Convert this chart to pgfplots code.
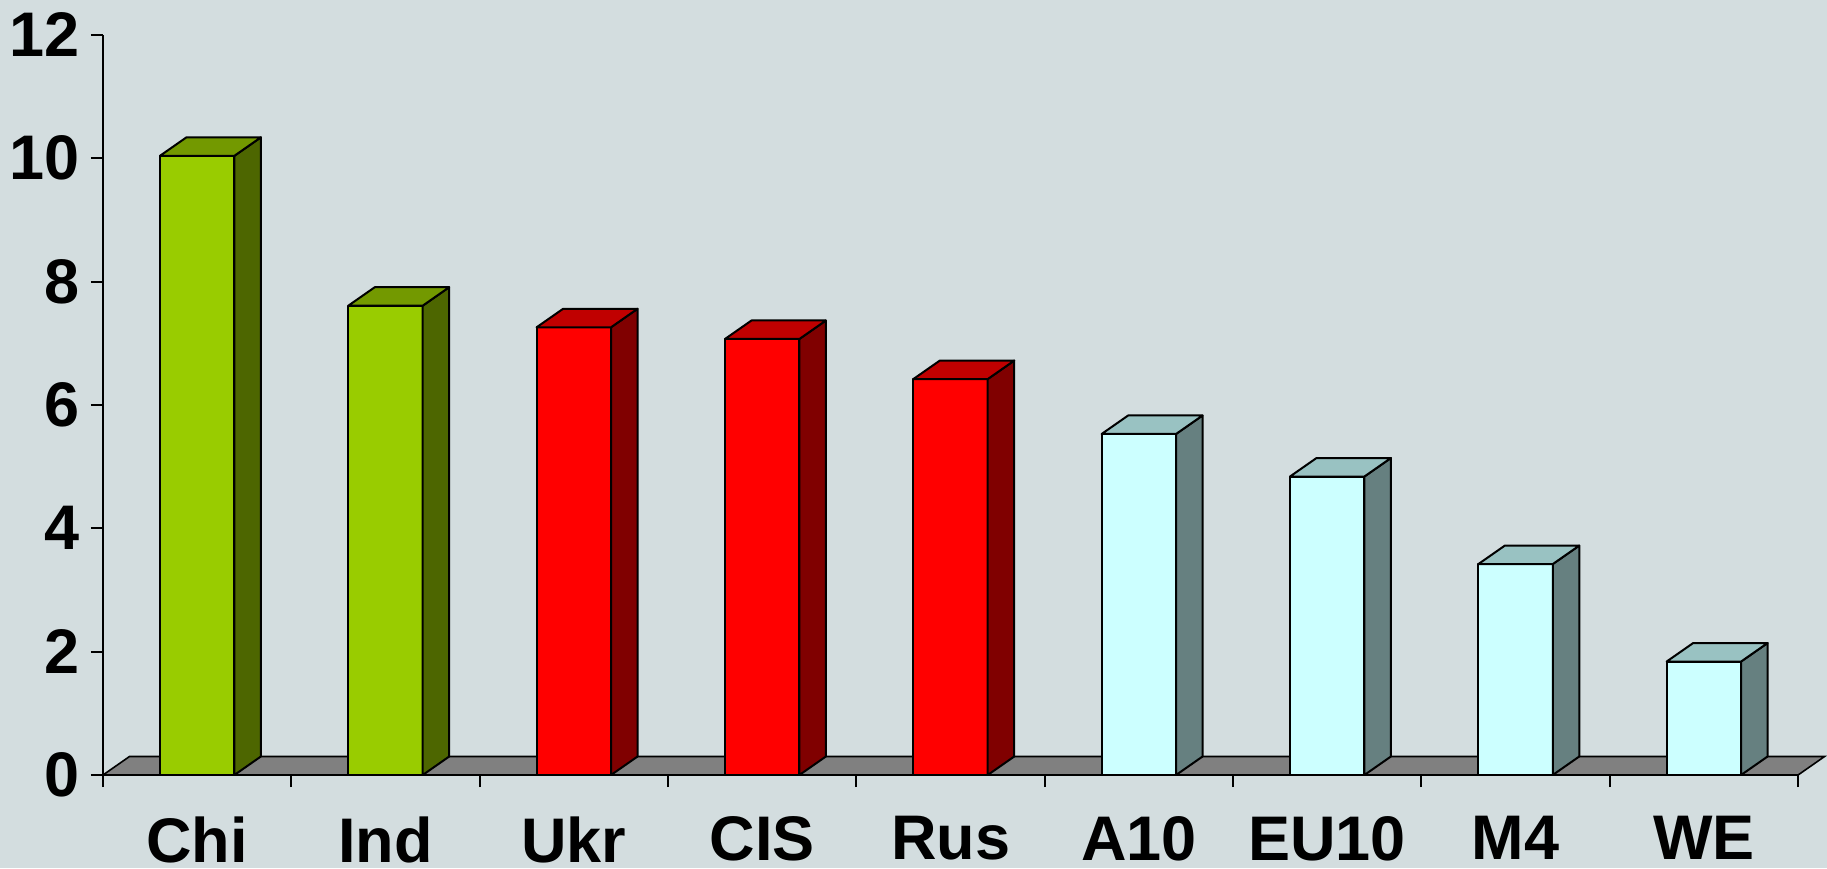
\documentclass[border=0pt]{standalone}
\usepackage{fontspec}
\setmainfont{Liberation Sans}
\usepackage{pgfplots}
\usepackage{pgfplotstable}
\pgfplotsset{compat=1.18}
\usetikzlibrary{backgrounds}

\definecolor{bgc}{HTML}{D3DDDF}
\definecolor{gfront}{HTML}{99CC00}
\definecolor{gside}{HTML}{4D6600}
\definecolor{gtop}{HTML}{739900}
\definecolor{rfront}{HTML}{FF0000}
\definecolor{rside}{HTML}{800000}
\definecolor{rtop}{HTML}{C00000}
\definecolor{cfront}{HTML}{CCFFFF}
\definecolor{cside}{HTML}{668080}
\definecolor{ctop}{HTML}{99C2C2}
\definecolor{floorc}{HTML}{808080}

% one bar: front face, side face, top face; origin at the data point (x, value)
\newcommand\barthreed[3]{%
  \pgfmathsetmacro\hh{\val*30.835}%
  \pgfsetlinewidth{1pt}\pgfsetstrokecolor{black}\pgfsetroundjoin
  \pgfsetfillcolor{#1}%
  \pgfpathrectanglecorners{\pgfpoint{-18.6pt}{-\hh pt}}{\pgfpoint{18.6pt}{0pt}}%
  \pgfusepath{fill,stroke}%
  \pgfsetfillcolor{#2}%
  \pgfpathmoveto{\pgfpoint{18.6pt}{-\hh pt}}%
  \pgfpathlineto{\pgfpoint{31.85pt}{-\hh pt+9.25pt}}%
  \pgfpathlineto{\pgfpoint{31.85pt}{9.25pt}}%
  \pgfpathlineto{\pgfpoint{18.6pt}{0pt}}%
  \pgfpathclose
  \pgfusepath{fill,stroke}%
  \pgfsetfillcolor{#3}%
  \pgfpathmoveto{\pgfpoint{-18.6pt}{0pt}}%
  \pgfpathlineto{\pgfpoint{-5.35pt}{9.25pt}}%
  \pgfpathlineto{\pgfpoint{31.85pt}{9.25pt}}%
  \pgfpathlineto{\pgfpoint{18.6pt}{0pt}}%
  \pgfpathclose
  \pgfusepath{fill,stroke}%
}
\pgfdeclareplotmark{barG}{\barthreed{gfront}{gside}{gtop}}
\pgfdeclareplotmark{barR}{\barthreed{rfront}{rside}{rtop}}
\pgfdeclareplotmark{barC}{\barthreed{cfront}{cside}{ctop}}

\pgfplotstableread{
x y
0.5 10.04
1.5 7.61
}\greentab
\pgfplotstableread{
x y
2.5 7.26
3.5 7.07
4.5 6.42
}\redtab
\pgfplotstableread{
x y
5.5 5.53
6.5 4.84
7.5 3.42
8.5 1.84
}\cyantab

\begin{document}
\begin{tikzpicture}
\begin{axis}[
  name=ax,
  at={(0,0)}, anchor=south west,
  x=94.17pt, y=30.835pt,
  xmin=0, xmax=9, ymin=0, ymax=12,
  axis lines=left,
  axis line style={-, line width=1pt, black},
  clip=false,
  tick align=outside,
  major tick length=6pt,
  tick style={line width=1pt, black},
  ytick={0,2,...,12},
  xtick={0,...,9},
  xticklabels={},
  extra x ticks={0.5,1.5,...,8.5},
  extra x tick labels={Chi,Ind,Ukr,CIS,Rus,A10,EU10,M4,WE},
  extra x tick style={major tick length=0pt,
    xticklabel style={anchor=north, inner sep=0pt, yshift=-20.5pt}},
  /pgf/number format/assume math mode=true,
  tick label style={font=\fontsize{31.5}{36}\selectfont\bfseries},
  yticklabel style={anchor=east, inner sep=0pt, xshift=-5.5pt},
]
\filldraw[fill=floorc, draw=black, line width=0.8pt]
  (axis cs:0,0) -- ++(13.25pt,9.25pt) -- ([xshift=13.25pt,yshift=9.25pt]axis cs:9,0) -- (axis cs:9,0) -- cycle;
\addplot[scatter, only marks, mark=barG,
  scatter/@pre marker code/.code={}, scatter/@post marker code/.code={},
  visualization depends on={rawy\as\val}] table[x=x,y=y] {\greentab};
\addplot[scatter, only marks, mark=barR,
  scatter/@pre marker code/.code={}, scatter/@post marker code/.code={},
  visualization depends on={rawy\as\val}] table[x=x,y=y] {\redtab};
\addplot[scatter, only marks, mark=barC,
  scatter/@pre marker code/.code={}, scatter/@post marker code/.code={},
  visualization depends on={rawy\as\val}] table[x=x,y=y] {\cyantab};
\end{axis}
\pgfresetboundingbox
\begin{scope}[on background layer]
\fill[bgc] (-51.5pt,-46.5pt) rectangle (862pt,387.5pt);
\end{scope}
\end{tikzpicture}
\end{document}
